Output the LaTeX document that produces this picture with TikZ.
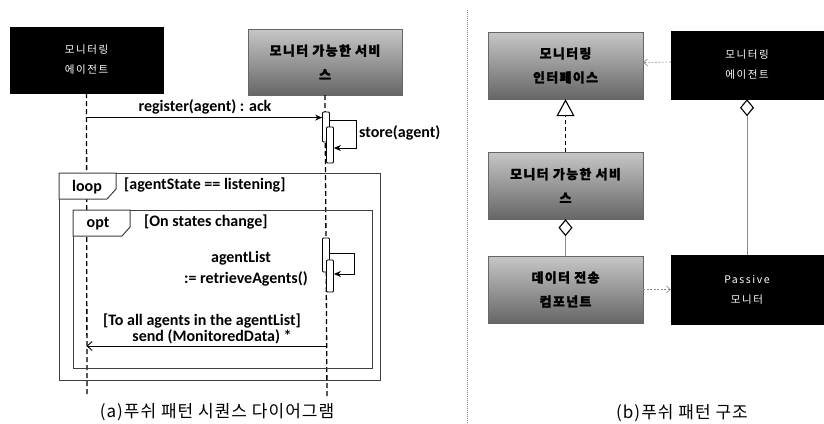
\documentclass[tikz,border=0pt]{standalone}
\usepackage{fontspec}
\setmainfont{Carlito}
\newfontfamily\krbox[LetterSpace=10, BoldFeatures={FakeBold=1.5}]{Noto Sans CJK KR}
\newfontfamily\krblk[LetterSpace=15]{Noto Sans CJK KR}
\newfontfamily\krcap[LetterSpace=6]{Noto Sans CJK KR}
\usetikzlibrary{arrows.meta}
\begin{document}
\begin{tikzpicture}[x=1pt,y=-1pt,
  blackbox/.style={draw=black, fill=black, text=white, inner sep=0pt, align=center, font=\krblk\fontsize{10.5}{20}\selectfont},
  graybox/.style={draw=black!60, top color=black!22, bottom color=black!60, inner sep=0pt, align=center, font=\krbox\bfseries\fontsize{13}{24}\selectfont},
  lifeline/.style={line width=1.3pt, dash pattern=on 5pt off 3pt},
  actbar/.style={draw, fill=white, line width=0.8pt, minimum width=7pt, inner sep=0pt, rounded corners=1pt},
  msg/.style={line width=0.9pt, -{Stealth[length=7pt,width=6pt]}},
  ret/.style={line width=0.9pt, -{Straight Barb[length=5pt,width=9pt]}},
  umlframe/.style={draw=black!75, line width=1pt, inner sep=0pt},
  tabshape/.style={draw=black!75, line width=1pt, fill=white},
  lbl/.style={inner sep=0pt, font=\bfseries\fontsize{16}{18}\selectfont},
  captext/.style={inner sep=0pt, font=\krcap\fontsize{17}{20}\selectfont},
  dep/.style={draw=black!45, line width=0.6pt, dash pattern=on 2pt off 1.5pt, -{Straight Barb[length=4pt,width=7pt]}},
  real/.style={line width=1.1pt, dash pattern=on 4pt off 3pt, -{Triangle[open,length=17pt,width=18pt,line width=1.1pt]}},
  agg/.style={draw=black!45, line width=0.6pt, {Diamond[open,length=17pt,width=14pt,line width=1.1pt,color=black]}-},
  divider/.style={draw=black!50, line width=0.6pt, dash pattern=on 1pt off 1pt}
]
\useasboundingbox (0,0) rectangle (824,423);

% ---------- (a) sequence diagram ----------
\node[blackbox, minimum width=153pt, minimum height=66pt] (agentA) at (86.5,60) {모니터링\\에이전트};
\node[graybox, minimum width=154pt, minimum height=66pt] (srvA) at (325,62) {모니터 가능한 서비\\스};
\coordinate (endA) at (87,397);
\coordinate (endB) at (327,397);
\draw[lifeline] (agentA.south) -- (endA);
\draw[lifeline] (srvA.south) -- (endB);

% frames
\node[umlframe, anchor=north west, minimum width=321pt, minimum height=207pt] (loopF) at (59,173) {};
\draw[tabshape] (loopF.north west) -- ++(57,0) -- ++(0,16) -- ++(-9,10) -- ++(-48,0) -- cycle;
\node[umlframe, anchor=north west, minimum width=299pt, minimum height=158pt] (optF) at (73,210) {};
\draw[tabshape] (optF.north west) -- ++(57,0) -- ++(0,17) -- ++(-8,9) -- ++(-49,0) -- cycle;
\node[lbl] (loopT) at (87,187) {loop};
\node[lbl, anchor=west] (loopG) at (124,185) {[agentState == listening]};
\node[lbl] (optT) at (98,224) {opt};
\node[lbl, anchor=west] (optG) at (144,222) {[On states change]};

% activation bars
\node[actbar, minimum height=30pt] (act1) at (326,127) {};
\node[actbar, minimum height=36pt] (act2) at (330,145) {};
\node[actbar, minimum height=34pt] (act3) at (326,255) {};
\node[actbar, minimum height=32pt] (act4) at (330,276) {};

% messages
\path (act1.north west) ++(0,6) coordinate (regPt);
\draw[msg] (regPt -| agentA.south) -- (regPt);
\node[lbl] (regL) at (205,107) {register(agent) : ack};
\draw[msg] (act1.north east) ++(0,9) -- ++(27,0) |- ([yshift=-3pt]act2.east);
\node[lbl, anchor=west] (storeL) at (359,133) {store(agent)};
\draw[msg] (act3.north east) ++(0,16) -- ++(25,0) |- ([yshift=2pt]act4.east);
\node[lbl] (listL) at (241,258) {agentList};
\node[lbl, anchor=east] (retrL) at (308,279) {:= retrieveAgents()};
\node[lbl] (toAllL) at (202,321) {[To all agents in the agentList]};
\node[lbl] (sendL) at (212,337) {send (MonitoredData) *};
\coordinate (retPt) at (327,346);
\draw[ret] (retPt) -- (retPt -| agentA.south);

\node[captext] (capA) at (217,412) {(a)푸쉬 패턴 시퀀스 다이어그램};

% divider
\coordinate (divTop) at (467,10);
\coordinate (divBot) at (467,423);
\draw[divider] (divTop) -- (divBot);

% ---------- (b) structure ----------
\node[graybox, minimum width=155pt, minimum height=67pt] (iface) at (565.5,65.5) {모니터링\\인터페이스};
\node[blackbox, minimum width=152pt, minimum height=68pt] (agentB) at (747,65) {모니터링\\에이전트};
\node[graybox, minimum width=155pt, minimum height=67pt] (srvB) at (565.5,185.5) {모니터 가능한 서비\\스};
\node[graybox, minimum width=155pt, minimum height=67pt] (data) at (565.5,289.5) {데이터 전송\\컴포넌트};
\node[blackbox, minimum width=152pt, minimum height=69pt] (passive) at (747,289.5) {Passive\\모니터};

\draw[dep] ([yshift=3pt]agentB.west) -- ([yshift=3pt]iface.east);
\draw[real] (srvB.north) -- (iface.south);
\draw[agg] (srvB.south) -- (data.north);
\draw[agg] (agentB.south) -- (passive.north);
\draw[dep] (data.east) -- (passive.west);

\node[captext] (capB) at (682,413) {(b)푸쉬 패턴 구조};
\end{tikzpicture}
\end{document}
